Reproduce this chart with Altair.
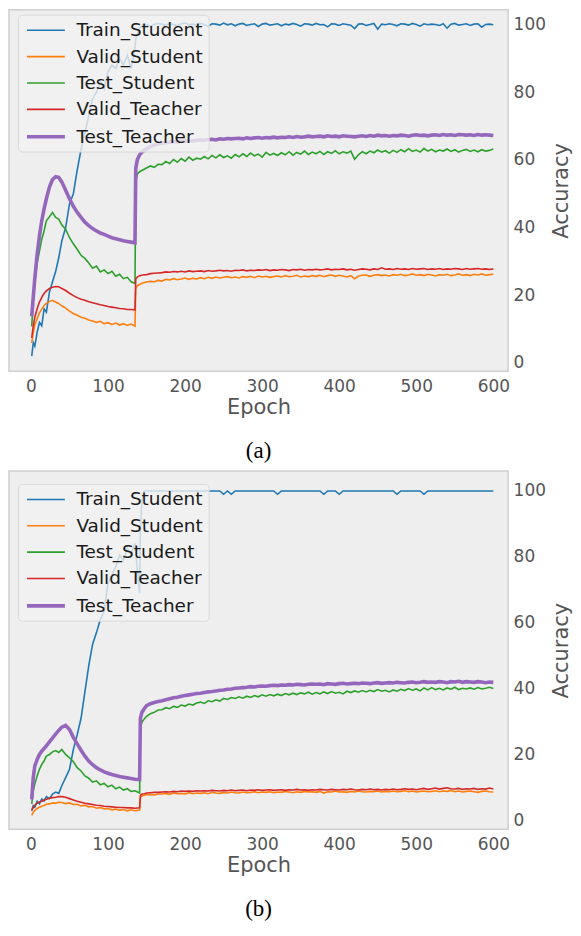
import altair as alt
import pandas as pd

SERIES = ["Train_Student", "Valid_Student", "Test_Student", "Valid_Teacher", "Test_Teacher"]
COLORS = ["#1f77b4", "#ff7f0e", "#2ca02c", "#d62728", "#9467bd"]
WIDTHS = [1.6, 1.6, 1.6, 1.6, 3.6]

X_TICKS = [0, 100, 200, 300, 400, 500, 600]
Y_TICKS = [0, 20, 40, 60, 80, 100]

REST = list(range(170, 601, 5))
EPOCHS_A = [1, 3, 5, 8, 11, 14, 17, 20, 24, 28,
            32, 36, 40, 45, 50, 55, 60, 65, 70, 75,
            80, 85, 90, 95, 100, 105, 110, 115, 120, 125,
            130, 135, 136, 138, 141, 145, 150, 155, 160, 165] + REST
EPOCHS_B = [1, 3, 5, 8, 11, 14, 17, 20, 24, 28,
            32, 36, 40, 45, 50, 55, 60, 65, 70, 75,
            80, 85, 90, 95, 100, 105, 110, 115, 120, 125,
            130, 135, 141, 142, 144, 147, 150, 155, 160, 165] + REST

# ---------------- panel (a) ----------------
A_TRAIN_STUDENT = [
    2.0, 6.0, 5.0, 9.0, 12.0, 11.0, 16.0, 15.0, 21.0, 24.0,
    27.0, 31.0, 36.0, 40.0, 47.0, 50.0, 57.0, 63.0, 68.0, 73.0,
    78.0, 80.0, 83.0, 81.0, 86.0, 88.0, 87.0, 90.0, 88.0, 91.0,
    87.0, 93.0, 96.0, 97.0, 99.0, 100.0, 100.0, 99.5, 100.0, 100.3,
    100.1, 99.8, 100.3, 100.0, 99.6, 100.2, 100.4, 99.9, 100.1, 99.7,
    100.3, 100.0, 99.5, 100.2, 100.1, 99.8, 100.4, 99.9, 100.2, 99.6,
    100.1, 100.3, 99.7, 100.0, 100.2, 99.4, 100.1, 100.3, 99.8, 100.0,
    100.2, 99.6, 100.1, 99.9, 100.3, 100.0, 99.5, 100.2, 100.1, 99.8,
    100.3, 99.9, 100.0, 99.3, 100.2, 100.1, 99.7, 100.2, 100.0, 99.8,
    98.8, 100.1, 100.2, 99.7, 100.0, 100.3, 98.6, 100.1, 99.9, 100.2,
    100.0, 99.6, 100.2, 100.1, 99.8, 100.3, 100.0, 99.5, 100.2, 99.9,
    100.1, 100.0, 99.7, 100.2, 98.9, 100.1, 100.3, 99.8, 100.0, 100.2,
    99.7, 100.1, 100.2, 99.2, 100.0, 100.1, 99.9,
]
A_VALID_STUDENT = [
    5.9, 9.0, 11.2, 13.0, 14.8, 15.9, 17.0, 17.6, 18.2, 18.5,
    18.0, 17.6, 16.9, 16.2, 15.3, 14.6, 14.1, 13.5, 13.2, 12.7,
    12.4, 12.0, 12.3, 11.6, 11.9, 11.4, 11.8, 11.2, 11.6, 11.1,
    11.5, 10.9, 22.0, 22.8, 23.2, 23.6, 23.9, 24.1, 24.0, 24.4,
    24.2, 24.7, 24.5, 24.9, 24.6, 24.8, 25.1, 24.7, 25.0, 24.8,
    25.2, 24.9, 25.3, 25.0, 25.4, 25.1, 25.3, 25.5, 25.2, 25.4,
    25.1, 25.5, 25.3, 25.6, 25.2, 25.7, 25.4, 25.6, 25.3, 25.5,
    25.7, 25.4, 25.8, 25.5, 25.6, 25.9, 25.4, 25.7, 25.5, 25.8,
    25.6, 25.9, 25.5, 25.8, 26.0, 25.6, 25.9, 25.7, 25.4, 25.8,
    24.9, 25.7, 25.9, 26.0, 25.6, 25.9, 26.1, 25.8, 26.0, 25.7,
    26.1, 25.9, 26.2, 25.8, 26.0, 26.3, 25.9, 26.1, 25.8, 26.2,
    26.0, 25.7, 26.1, 25.9, 26.2, 25.8, 26.0, 26.3, 25.9, 26.1,
    25.8, 26.2, 26.0, 26.3, 25.9, 26.1, 26.2,
]
A_TEST_STUDENT = [
    10.8, 18.5, 24.0, 29.5, 33.0, 36.5, 39.0, 42.0, 43.2, 44.5,
    43.0, 42.5, 40.8, 39.5, 37.0, 35.2, 33.6, 31.8, 30.9, 29.5,
    28.0, 28.6, 26.9, 27.5, 26.4, 27.1, 25.6, 26.2, 24.9, 25.3,
    24.0, 23.5, 53.5, 55.8, 56.5, 57.0, 57.6, 58.2, 57.8, 58.7,
    58.6, 59.5, 58.9, 60.1, 59.3, 60.4, 59.6, 60.8, 59.9, 60.5,
    60.2, 61.0, 60.3, 61.3, 60.6, 61.5, 60.7, 61.2, 60.5, 61.6,
    60.9, 61.8, 61.0, 62.0, 61.2, 61.7, 60.8, 62.2, 61.4, 61.9,
    61.3, 62.1, 61.5, 62.4, 61.4, 62.2, 61.7, 62.6, 61.6, 62.3,
    61.8, 62.5, 61.6, 62.4, 61.9, 62.7, 61.8, 62.4, 62.0, 62.6,
    60.2, 61.5, 62.4, 61.8, 62.6, 62.1, 62.9, 62.3, 62.7, 62.0,
    62.8, 62.2, 63.0, 62.4, 63.3, 62.5, 62.9, 62.3, 63.4, 62.6,
    63.1, 62.4, 62.9, 62.6, 63.2, 62.5, 63.0, 62.3, 62.8, 63.1,
    62.5, 62.9, 62.4, 63.0, 62.6, 62.8, 63.2,
]
A_VALID_TEACHER = [
    7.4, 11.0, 13.5, 16.0, 18.0, 19.4, 20.5, 21.3, 22.0, 22.4,
    22.6, 22.5, 22.0, 21.4, 20.6, 19.9, 19.3, 18.8, 18.5, 18.1,
    17.8, 17.5, 17.2, 17.0, 16.7, 16.5, 16.3, 16.1, 16.0, 15.8,
    15.8, 15.7, 24.8, 25.4, 25.8, 26.0, 26.1, 26.4, 26.5, 26.6,
    26.7, 26.9, 26.8, 27.0, 26.9, 27.1, 26.9, 27.2, 27.0, 27.1,
    27.2, 27.0, 27.3, 27.1, 27.2, 27.4, 27.2, 27.3, 27.1, 27.4,
    27.3, 27.5, 27.2, 27.4, 27.3, 27.5, 27.4, 27.6, 27.3, 27.5,
    27.4, 27.6, 27.5, 27.3, 27.6, 27.5, 27.7, 27.4, 27.6, 27.5,
    27.7, 27.5, 27.6, 27.8, 27.5, 27.7, 27.6, 27.8, 27.5, 27.7,
    27.4, 27.6, 27.8, 27.7, 27.5, 27.8, 27.6, 28.1, 27.7, 27.8,
    27.6, 27.9, 27.7, 27.8, 27.6, 27.9, 27.7, 27.8, 27.9, 27.6,
    27.8, 27.7, 27.9, 27.6, 27.8, 27.7, 27.9, 27.8, 27.6, 27.9,
    27.7, 27.8, 27.9, 27.7, 27.8, 27.6, 27.8,
]
A_TEST_TEACHER = [
    13.8, 19.5, 25.0, 32.0, 37.5, 42.0, 45.5, 48.5, 52.0, 54.2,
    55.0, 54.8, 53.5, 51.0, 48.5, 46.3, 44.5, 43.0, 41.6, 40.6,
    39.7, 39.0, 38.4, 38.0, 37.5, 37.0, 36.7, 36.4, 36.1, 35.9,
    35.7, 35.5, 57.5, 60.0, 61.5, 62.5, 63.3, 63.9, 64.4, 64.7,
    64.9, 65.1, 65.2, 65.4, 65.3, 65.6, 65.5, 65.7, 65.6, 65.8,
    65.9, 65.8, 66.0, 66.1, 65.9, 66.2, 66.1, 66.3, 66.2, 66.3,
    66.4, 66.2, 66.5, 66.3, 66.5, 66.6, 66.4, 66.6, 66.5, 66.7,
    66.5, 66.7, 66.6, 66.8, 66.6, 66.9, 66.7, 66.8, 67.0, 66.8,
    66.9, 67.0, 66.8, 67.1, 66.9, 67.0, 66.8, 67.1, 67.0, 66.9,
    66.8, 67.0, 67.1, 66.9, 67.2, 67.0, 67.3, 67.1, 67.2, 67.0,
    67.2, 67.1, 67.3, 67.2, 67.0, 67.3, 67.4, 67.2, 67.3, 67.1,
    67.3, 67.4, 67.2, 67.5, 67.3, 67.4, 67.2, 67.5, 67.4, 67.3,
    67.4, 67.2, 67.5, 67.3, 67.4, 67.3, 67.2,
]

# ---------------- panel (b) ----------------
B_TRAIN_STUDENT = [
    3.0, 4.5, 4.0, 5.8, 5.0, 6.5, 5.9, 7.2, 6.6, 8.0,
    8.6, 8.2, 10.5, 13.0, 15.5, 21.5, 26.0, 31.0, 39.0, 47.0,
    53.5, 57.0, 61.0, 63.5, 72.0, 74.5, 77.0, 80.5, 79.0, 82.5,
    81.0, 84.0, 69.0, 88.0, 97.0, 100.0, 100.0, 100.0, 100.0, 100.0,
    100.0, 100.0, 100.0, 100.0, 100.0, 100.0, 100.0, 100.0, 100.0, 100.0,
    100.0, 100.0, 100.0, 100.0, 100.0, 100.0, 99.0, 100.0, 99.0, 100.0,
    100.0, 100.0, 100.0, 100.0, 100.0, 100.0, 100.0, 100.0, 100.0, 100.0,
    99.0, 100.0, 100.0, 100.0, 100.0, 100.0, 100.0, 100.0, 100.0, 100.0,
    100.0, 100.0, 99.0, 100.0, 100.0, 100.0, 99.0, 100.0, 100.0, 100.0,
    100.0, 100.0, 100.0, 100.0, 100.0, 100.0, 100.0, 100.0, 100.0, 100.0,
    100.0, 99.0, 100.0, 100.0, 100.0, 100.0, 100.0, 100.0, 99.0, 100.0,
    100.0, 100.0, 100.0, 100.0, 100.0, 100.0, 100.0, 100.0, 100.0, 100.0,
    100.0, 100.0, 100.0, 100.0, 100.0, 100.0, 100.0,
]
B_VALID_STUDENT = [
    1.5, 2.5, 3.0, 3.6, 4.0, 4.3, 4.5, 4.9, 5.0, 5.3,
    5.2, 5.5, 5.4, 5.1, 5.3, 4.8, 4.9, 4.4, 4.6, 4.1,
    4.2, 3.7, 3.9, 3.5, 3.6, 3.2, 3.4, 3.1, 3.3, 2.9,
    3.2, 2.9, 3.1, 7.0, 7.4, 7.6, 7.8, 7.9, 7.7, 8.0,
    8.0, 8.2, 7.9, 8.3, 8.1, 8.2, 8.0, 8.4, 8.1, 8.3,
    8.2, 8.4, 8.1, 8.5, 8.3, 8.2, 8.5, 8.3, 8.6, 8.4,
    8.3, 8.6, 8.4, 8.5, 8.7, 8.4, 8.6, 8.5, 8.7, 8.4,
    8.6, 8.5, 8.8, 8.6, 8.4, 8.7, 8.5, 8.8, 8.6, 8.7,
    8.5, 8.8, 8.3, 8.7, 8.6, 8.9, 8.6, 8.7, 8.5, 8.8,
    8.6, 8.9, 8.7, 8.6, 8.8, 8.7, 8.9, 8.6, 8.8, 8.7,
    8.9, 8.7, 8.8, 9.0, 8.7, 8.9, 8.6, 8.8, 8.9, 8.7,
    8.8, 9.0, 8.7, 8.9, 8.8, 9.1, 8.7, 8.9, 8.6, 8.8,
    8.9, 8.7, 8.5, 8.8, 8.9, 8.7, 8.6,
]
B_TEST_STUDENT = [
    5.0, 9.0, 11.0, 13.5, 15.5, 17.0, 18.0, 19.5, 20.0, 20.8,
    21.2, 20.6, 21.5, 20.0, 19.0, 17.8, 16.0, 15.0, 13.5, 12.8,
    11.6, 12.0, 10.8, 11.2, 10.2, 10.7, 9.6, 10.1, 9.2, 9.6,
    8.8, 9.0, 8.3, 28.0, 29.8, 30.8, 31.6, 32.4, 32.8, 33.5,
    33.6, 34.2, 33.9, 34.6, 34.3, 35.0, 34.7, 35.3, 35.0, 35.6,
    35.9, 35.5, 36.3, 36.0, 36.6, 36.2, 37.0, 36.7, 37.3, 37.0,
    37.5, 37.1, 37.7, 37.3, 37.9, 37.5, 38.1, 37.7, 38.2, 37.8,
    38.3, 37.9, 38.5, 38.1, 38.6, 38.2, 38.7, 38.4, 38.9, 38.3,
    38.8, 38.4, 39.0, 38.5, 39.1, 38.6, 38.9, 38.4, 39.2, 38.8,
    39.3, 38.9, 39.4, 39.0, 39.5, 39.1, 39.7, 39.2, 39.5, 39.0,
    39.6, 39.2, 39.8, 39.4, 40.0, 39.5, 39.9, 39.3, 40.2, 39.6,
    40.3, 39.7, 40.1, 39.6, 40.2, 39.8, 40.4, 39.7, 40.1, 39.9,
    40.2, 39.8, 40.3, 39.9, 40.1, 40.4, 40.0,
]
B_VALID_TEACHER = [
    3.0, 4.0, 4.6, 5.2, 5.6, 5.8, 6.1, 6.4, 6.7, 6.9,
    7.0, 7.2, 7.2, 7.0, 6.6, 6.2, 5.8, 5.5, 5.2, 5.0,
    4.8, 4.6, 4.5, 4.3, 4.2, 4.1, 4.0, 3.9, 3.9, 3.8,
    3.8, 3.7, 3.8, 7.6, 8.0, 8.1, 8.3, 8.4, 8.5, 8.5,
    8.6, 8.7, 8.6, 8.8, 8.7, 8.9, 8.8, 8.9, 8.8, 9.0,
    8.9, 9.0, 8.9, 9.1, 9.0, 8.9, 9.1, 9.0, 9.2, 9.0,
    9.1, 9.2, 9.0, 9.2, 9.1, 9.3, 9.1, 9.2, 9.3, 9.1,
    9.2, 9.3, 9.1, 9.3, 9.2, 9.4, 9.2, 9.3, 9.1, 9.3,
    9.2, 9.4, 9.3, 9.2, 9.4, 9.3, 9.2, 9.4, 9.3, 9.5,
    9.3, 9.2, 9.4, 9.3, 9.5, 9.3, 9.4, 9.2, 9.4, 9.3,
    9.5, 9.3, 9.4, 9.6, 9.4, 9.5, 9.3, 9.5, 9.7, 9.4,
    9.6, 9.8, 9.5, 9.7, 9.9, 9.6, 9.5, 9.7, 9.4, 9.6,
    9.5, 9.7, 9.4, 9.6, 9.5, 9.8, 9.5,
]
B_TEST_TEACHER = [
    6.4, 13.0, 16.5, 18.5, 20.0, 21.0, 21.8, 22.6, 23.8, 25.0,
    26.2, 27.3, 28.3, 28.8, 27.6, 25.2, 23.2, 21.3, 19.5, 18.0,
    16.9, 16.0, 15.3, 14.7, 14.3, 13.9, 13.6, 13.3, 13.1, 12.9,
    12.7, 12.5, 12.4, 31.0, 32.8, 33.9, 34.8, 35.4, 35.8, 36.1,
    36.3, 36.6, 36.9, 37.2, 37.4, 37.7, 37.9, 38.1, 38.3, 38.5,
    38.6, 38.8, 39.0, 39.1, 39.3, 39.5, 39.6, 39.8, 39.9, 40.1,
    40.2, 40.3, 40.4, 40.6, 40.5, 40.7, 40.8, 40.7, 40.9, 41.0,
    40.9, 41.1, 41.0, 41.2, 41.1, 41.3, 41.2, 41.1, 41.3, 41.4,
    41.3, 41.4, 41.2, 41.5, 41.4, 41.3, 41.5, 41.6, 41.4, 41.5,
    41.6, 41.5, 41.7, 41.6, 41.5, 41.7, 41.8, 41.6, 41.7, 41.8,
    41.7, 41.9, 41.8, 41.7, 41.9, 42.0, 41.8, 41.9, 42.1, 41.9,
    42.0, 41.9, 42.1, 42.0, 41.8, 42.1, 42.0, 42.2, 41.9, 42.1,
    42.0, 41.9, 42.1, 42.0, 41.8, 42.0, 41.9,
]

FONT = "DejaVu Sans"
GREY = "#555555"


def make_df(epochs, series_values):
    rows = []
    for name, vals in zip(SERIES, series_values):
        assert len(vals) == len(epochs), (name, len(vals), len(epochs))
        for e, v in zip(epochs, vals):
            rows.append({"epoch": e, "acc": v, "series": name})
    return pd.DataFrame(rows)


def panel(df, ydom, height, legend_y, caption):
    leg = alt.Legend(
        title=None, orient="none", legendX=9, legendY=legend_y,
        symbolType="M-2,0H2", symbolSize=361, symbolOffset=11.5,
        labelFont=FONT, labelFontSize=18.5, labelColor="#1a1a1a",
        labelOffset=19, rowPadding=6.4, padding=5,
        fillColor="rgba(241,241,241,0.8)", strokeColor="#d9d9d9",
        cornerRadius=4,
    )
    return alt.Chart(df).mark_line().encode(
        x=alt.X("epoch:Q",
                scale=alt.Scale(domain=[-28.5, 619.2], nice=False, zero=False),
                axis=alt.Axis(values=X_TICKS, title="Epoch", labelPadding=7,
                              titlePadding=2)),
        y=alt.Y("acc:Q",
                scale=alt.Scale(domain=ydom, nice=False, zero=False),
                axis=alt.Axis(orient="right", values=Y_TICKS, title="Accuracy",
                              titleAngle=270, titleBaseline="top",
                              labelPadding=5, titlePadding=5)),
        color=alt.Color("series:N", scale=alt.Scale(domain=SERIES, range=COLORS),
                        legend=leg),
        strokeWidth=alt.StrokeWidth("series:N",
                                    scale=alt.Scale(type="ordinal", domain=SERIES,
                                                    range=WIDTHS),
                                    legend=leg),
    ).properties(
        width=500, height=height,
        title=alt.TitleParams(caption, orient="bottom", font="Liberation Serif",
                              fontSize=23, fontWeight="normal", color="black",
                              offset=23),
    )


df_a = make_df(EPOCHS_A, [A_TRAIN_STUDENT, A_VALID_STUDENT, A_TEST_STUDENT,
                          A_VALID_TEACHER, A_TEST_TEACHER])
df_b = make_df(EPOCHS_B, [B_TRAIN_STUDENT, B_VALID_STUDENT, B_TEST_STUDENT,
                          B_VALID_TEACHER, B_TEST_TEACHER])

chart_a = panel(df_a, [-2.42, 104.33], 362, 5, "(a)")
chart_b = panel(df_b, [-2.73, 106.06], 359, 13, "(b)")

chart = alt.vconcat(chart_a, chart_b, spacing=6).resolve_scale(
    color="independent", strokeWidth="independent"
).configure(
    padding=0,
    background="white",
).configure_view(
    fill="#EEEEEE", stroke="#CFCFCF", strokeWidth=1.5
).configure_axis(
    labelFont=FONT, labelFontSize=17, labelColor=GREY,
    titleFont=FONT, titleFontSize=21, titleColor=GREY, titleFontWeight="normal",
    ticks=False, tickSize=0, domain=False, grid=False,
)

chart.save("out.html", embed_options={"renderer": "svg", "actions": False})
